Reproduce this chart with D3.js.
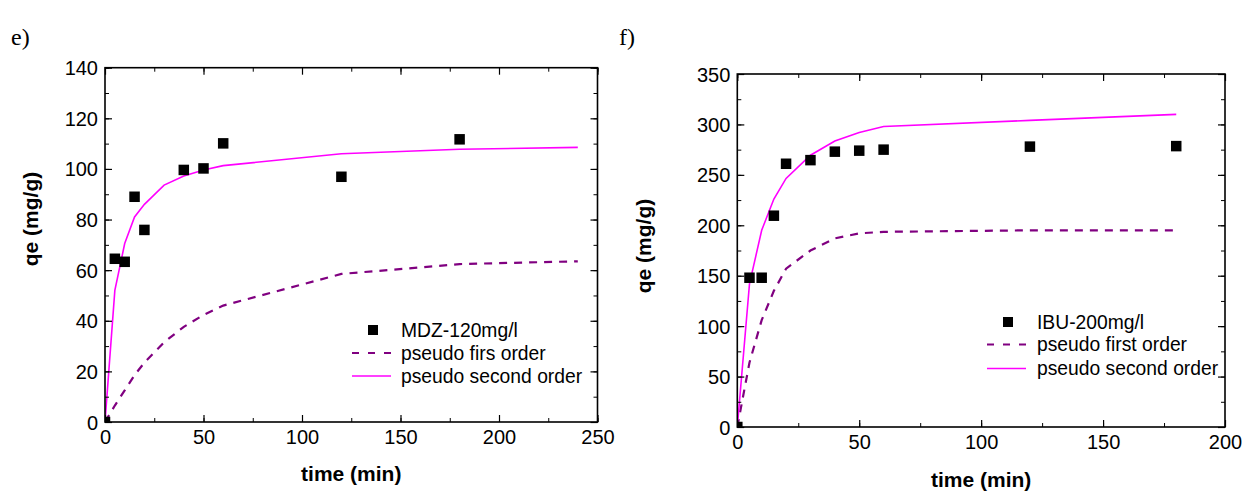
<!DOCTYPE html>
<html>
<head>
<meta charset="utf-8">
<script src="https://cdn.jsdelivr.net/npm/d3@7"></script>
<style>
  body { margin: 0; background: #fff; }
  svg { display: block; }
</style>
</head>
<body>
<svg id="chart" width="1244" height="491"></svg>
<script>
// ---------- Data: panel e) MDZ ----------
const timeMDZ = [0, 5, 10, 15, 20, 40, 50, 60, 120, 180];
const qeMDZ = [0, 64.5, 63.3, 89, 75.9, 99.6, 100.2, 110.1, 96.9, 111.7];
const fitTimeMDZ = [0, 5, 10, 15, 20, 30, 40, 50, 60, 120, 180, 240];
const pfoMDZ = [0, 6.5, 12.5, 18.5, 23.5, 31.5, 37.6, 42.3, 46, 58.5, 62.4, 63.5];
const psoMDZ = [0, 52, 70.5, 81, 86, 93.6, 97.2, 99.6, 101.3, 106, 107.8, 108.5];
const xTicksMDZ = [0, 50, 100, 150, 200, 250];
const yTicksMDZ = [0, 20, 40, 60, 80, 100, 120, 140];
const legendMDZ = ["MDZ-120mg/l", "pseudo firs order", "pseudo second order"];

// ---------- Data: panel f) IBU ----------
const timeIBU = [0, 5, 10, 15, 20, 30, 40, 50, 60, 120, 180];
const qeIBU = [0, 148, 148, 209.5, 261, 264.6, 273, 274, 275, 278, 278.5];
const fitTimeIBU = [0, 5, 10, 15, 20, 30, 40, 50, 60, 120, 180];
const pfoIBU = [0, 64, 106, 135, 157, 175, 187, 192, 193.5, 195, 195];
const psoIBU = [0, 142, 195, 226, 246.5, 269.5, 283.5, 292, 298, 304, 310];
const xTicksIBU = [0, 50, 100, 150, 200];
const yTicksIBU = [0, 50, 100, 150, 200, 250, 300, 350];
const legendIBU = ["IBU-200mg/l", "pseudo first order", "pseudo second order"];

const svg = d3.select("#chart");
const FONT = "'Liberation Sans', Arial, Helvetica, sans-serif";

function drawPanel(o) {
  const x = d3.scaleLinear().domain(o.xDomain).range([o.left, o.right]);
  const y = d3.scaleLinear().domain(o.yDomain).range([o.bottom, o.top]);
  const g = svg.append("g");

  // panel letter
  g.append("text").attr("x", o.letterX).attr("y", o.letterY)
    .attr("font-family", "'Liberation Serif', 'Times New Roman', serif")
    .attr("font-size", 24).text(o.letter);

  const clipId = "clip-" + o.letter.replace(")", "");
  svg.append("clipPath").attr("id", clipId)
    .append("rect").attr("x", o.left).attr("y", o.top)
    .attr("width", o.right - o.left).attr("height", o.bottom - o.top);

  const plot = g.append("g").attr("clip-path", `url(#${clipId})`);

  const line = d3.line().x(d => x(d[0])).y(d => y(d[1]));
  // pseudo first order (dashed purple)
  plot.append("path")
    .datum(o.fitT.map((t, i) => [t, o.pfo[i]]))
    .attr("d", line).attr("fill", "none")
    .attr("stroke", "#800080").attr("stroke-width", 2.2)
    .attr("stroke-dasharray", "8,7");
  // pseudo second order (magenta)
  plot.append("path")
    .datum(o.fitT.map((t, i) => [t, o.pso[i]]))
    .attr("d", line).attr("fill", "none")
    .attr("stroke", "#ff00ff").attr("stroke-width", 1.6);
  // experimental points
  const s = 10.5;
  plot.selectAll("rect.pt").data(o.t.map((t, i) => [t, o.q[i]]))
    .join("rect").attr("class", "pt")
    .attr("x", d => x(d[0]) - s / 2).attr("y", d => y(d[1]) - s / 2)
    .attr("width", s).attr("height", s).attr("fill", "#000");

  // axes: ticks inward on all four sides
  const minorX = d3.range(o.xDomain[0], o.xDomain[1] + 0.001, o.xMinor);
  const minorY = d3.range(o.yDomain[0], o.yDomain[1] + 0.001, o.yMinor);
  const mk = (axis, tv, len) => axis.tickValues(tv).tickSize(len).tickFormat("");
  const axes = [
    [d3.axisBottom(x), `translate(0,${o.bottom})`, -1, minorX, o.xTicks],
    [d3.axisTop(x), `translate(0,${o.top})`, -1, minorX, o.xTicks],
    [d3.axisLeft(y), `translate(${o.left},0)`, -1, minorY, o.yTicks],
    [d3.axisRight(y), `translate(${o.right},0)`, -1, minorY, o.yTicks]
  ];
  axes.forEach(([ax, tr, sign, minor, major]) => {
    const gm = g.append("g").attr("transform", tr)
      .call(mk(ax.copy ? ax : ax, minor, sign * 4));
    gm.select(".domain").remove();
    gm.selectAll("line").attr("stroke", "#000").attr("stroke-width", 1);
  });
  const axesMaj = [
    [d3.axisBottom(x), `translate(0,${o.bottom})`, o.xTicks],
    [d3.axisTop(x), `translate(0,${o.top})`, o.xTicks],
    [d3.axisLeft(y), `translate(${o.left},0)`, o.yTicks],
    [d3.axisRight(y), `translate(${o.right},0)`, o.yTicks]
  ];
  axesMaj.forEach(([ax, tr, tv]) => {
    const gm = g.append("g").attr("transform", tr)
      .call(ax.tickValues(tv).tickSize(-7).tickSizeOuter(0).tickFormat(""));
    gm.select(".domain").remove();
    gm.selectAll("line").attr("stroke", "#000").attr("stroke-width", 1.2);
  });
  // frame
  g.append("rect").attr("x", o.left).attr("y", o.top)
    .attr("width", o.right - o.left).attr("height", o.bottom - o.top)
    .attr("fill", "none").attr("stroke", "#000").attr("stroke-width", 1.6);

  // tick labels
  const xl = d3.axisBottom(x).tickValues(o.xTicks).tickSize(0).tickPadding(0);
  const gx = g.append("g").attr("transform", `translate(0,${o.bottom + 22})`).call(xl);
  gx.select(".domain").remove();
  gx.selectAll("text").attr("font-family", FONT).attr("font-size", 20)
    .attr("fill", "#000").attr("dy", 0);
  const yl = d3.axisLeft(y).tickValues(o.yTicks).tickSize(0).tickPadding(0);
  const gy = g.append("g").attr("transform", `translate(${o.left - 7},0)`).call(yl);
  gy.select(".domain").remove();
  gy.selectAll("text").attr("font-family", FONT).attr("font-size", 20)
    .attr("fill", "#000").attr("dy", "0.35em");

  // axis titles
  g.append("text").attr("x", (o.left + o.right) / 2).attr("y", o.xTitleY)
    .attr("text-anchor", "middle").attr("font-family", FONT)
    .attr("font-weight", "bold").attr("font-size", 21).text("time (min)");
  g.append("text")
    .attr("transform", `translate(${o.yTitleX},${o.yTitleCY}) rotate(-90)`)
    .attr("text-anchor", "middle").attr("dominant-baseline", "middle")
    .attr("font-family", FONT).attr("font-weight", "bold").attr("font-size", 21)
    .text("qe (mg/g)");

  // legend
  const lg = g.append("g");
  const [r0, r1, r2] = o.legRows;
  lg.append("rect").attr("x", o.legMarkX - 5).attr("y", r0 - 5)
    .attr("width", 10).attr("height", 10).attr("fill", "#000");
  lg.append("line").attr("x1", o.legLineX0).attr("x2", o.legLineX1)
    .attr("y1", r1).attr("y2", r1).attr("stroke", "#800080")
    .attr("stroke-width", 2.2).attr("stroke-dasharray", "7,9");
  lg.append("line").attr("x1", o.legLineX0).attr("x2", o.legLineX1)
    .attr("y1", r2).attr("y2", r2).attr("stroke", "#ff00ff")
    .attr("stroke-width", 1.6);
  o.legend.forEach((txt, i) => {
    lg.append("text").attr("x", o.legTextX).attr("y", o.legRows[i])
      .attr("dy", "0.35em").attr("font-family", FONT).attr("font-size", 19.3)
      .attr("fill", "#000").text(txt);
  });
}

drawPanel({
  letter: "e)", letterX: 11, letterY: 45,
  left: 105, right: 597.5, top: 67.7, bottom: 422,
  xDomain: [0, 250], yDomain: [0, 140], xMinor: 25, yMinor: 10,
  xTicks: xTicksMDZ, yTicks: yTicksMDZ,
  t: timeMDZ, q: qeMDZ, fitT: fitTimeMDZ, pfo: pfoMDZ, pso: psoMDZ,
  xTitleY: 481, yTitleX: 32, yTitleCY: 219,
  legend: legendMDZ, legRows: [330, 353, 376], legMarkX: 373,
  legLineX0: 352, legLineX1: 391, legTextX: 401
});

drawPanel({
  letter: "f)", letterX: 619, letterY: 45,
  left: 737.3, right: 1225, top: 74, bottom: 427,
  xDomain: [0, 200], yDomain: [0, 350], xMinor: 25, yMinor: 25,
  xTicks: xTicksIBU, yTicks: yTicksIBU,
  t: timeIBU, q: qeIBU, fitT: fitTimeIBU, pfo: pfoIBU, pso: psoIBU,
  xTitleY: 487, yTitleX: 645, yTitleCY: 246,
  legend: legendIBU, legRows: [322, 344.5, 368.5], legMarkX: 1008,
  legLineX0: 987, legLineX1: 1026, legTextX: 1037
});
</script>
</body>
</html>
